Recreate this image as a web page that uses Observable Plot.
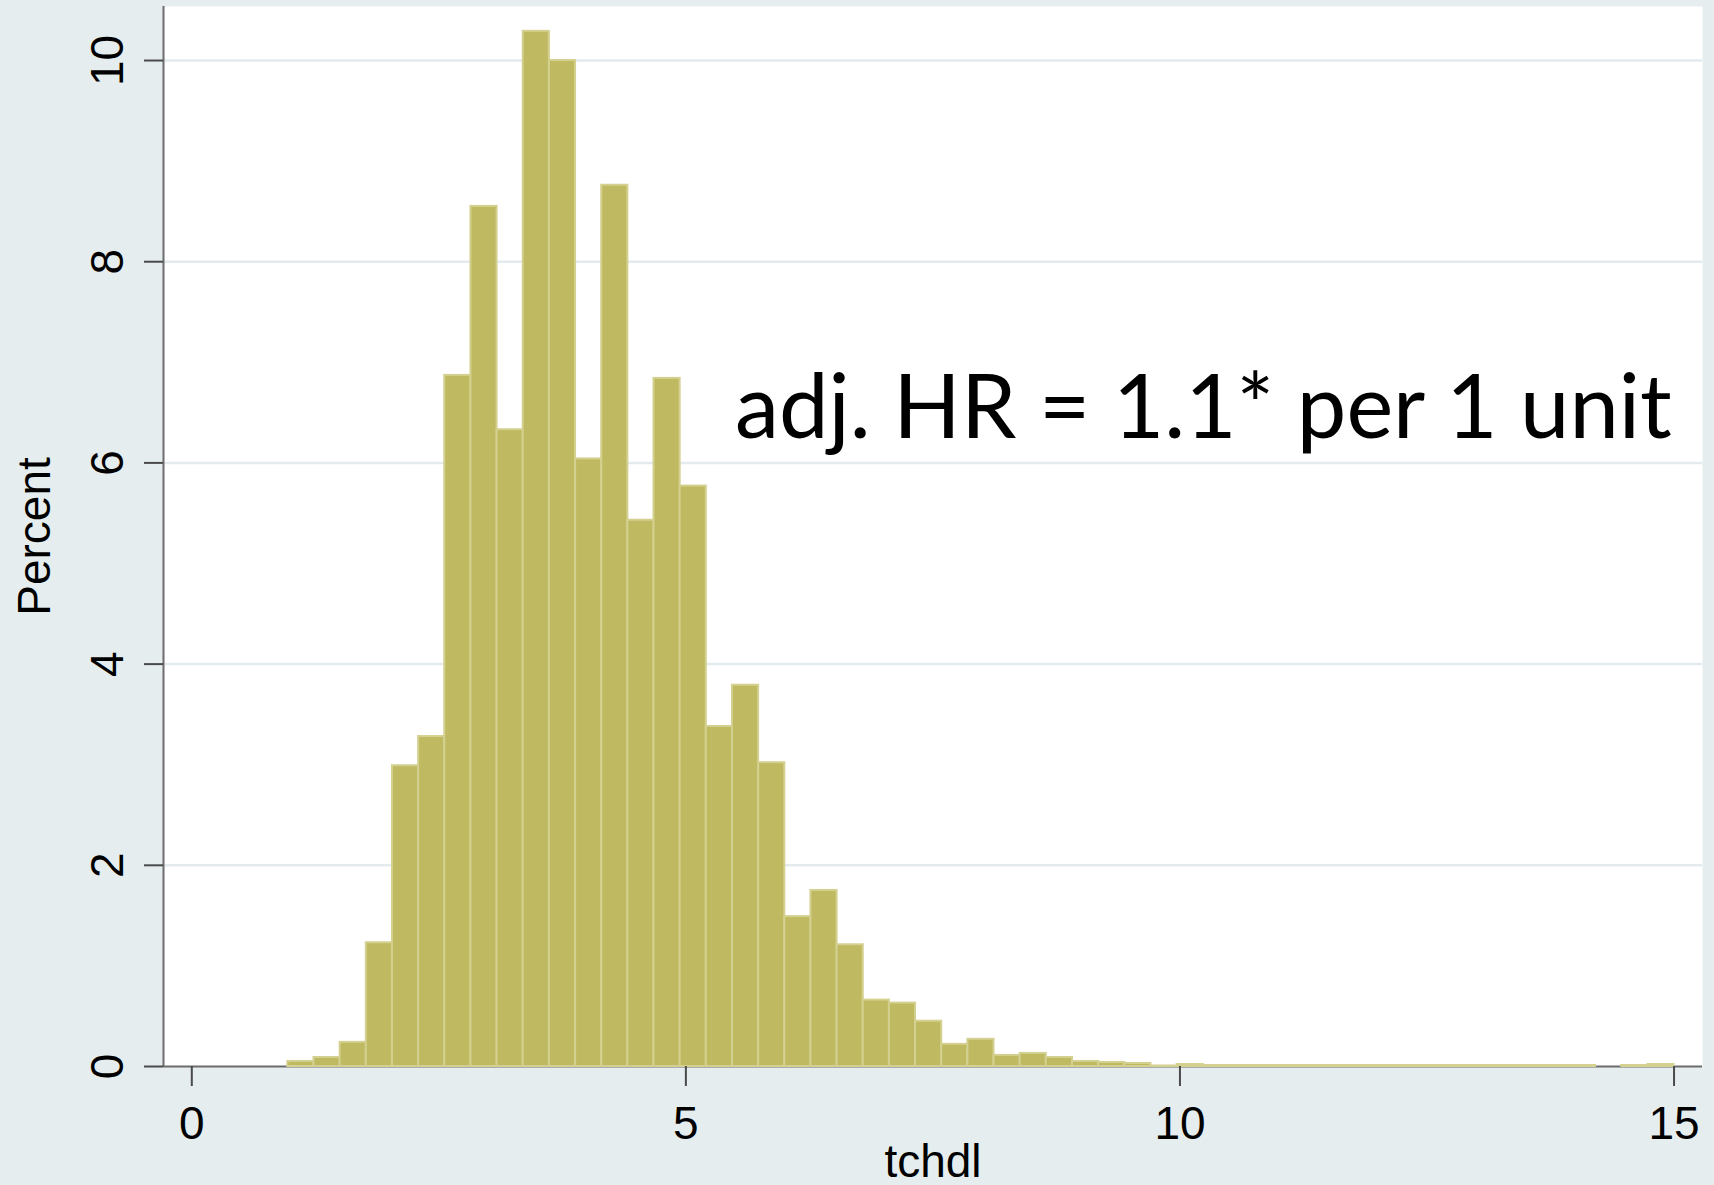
<!DOCTYPE html>
<html><head><meta charset="utf-8">
<script src="https://cdn.jsdelivr.net/npm/d3@7"></script>
<script src="https://cdn.jsdelivr.net/npm/@observablehq/plot@0.6"></script>
<style>
html,body{margin:0;padding:0;background:#e5edef;}
svg{display:block;}
</style></head><body><div id="chart"></div>
<script>
// Histogram of tchdl (percent per bin), 53 equal-width bins
const binStart = 0.972;
const binEnd = 15.0;
const percent = [
  0.05, 0.09, 0.24, 1.23, 2.99, 3.28, 6.87, 8.55, 6.33, 10.29,
  10.00, 6.04, 8.76, 5.43, 6.84, 5.77, 3.38, 3.79, 3.02, 1.49,
  1.75, 1.21, 0.66, 0.63, 0.45, 0.22, 0.27, 0.11, 0.13, 0.09,
  0.05, 0.04, 0.03, 0.005, 0.02, 0.01, 0.01, 0.01, 0.01, 0.01,
  0.01, 0.01, 0.01, 0.01, 0.01, 0.01, 0.01, 0.01, 0.01, 0.01,
  0, 0.01, 0.02
];
const xTicks = [0, 5, 10, 15];
const yTicks = [0, 2, 4, 6, 8, 10];
const xDomain = [-0.2864, 15.288];
const yDomain = [0, 10.537];
const xLabel = "tchdl";
const yLabel = "Percent";
const annotation = [{x: 5.497, y: 6.25, text: "adj. HR = 1.1* per 1 unit"}];

const binWidth = (binEnd - binStart) / percent.length;
const bins = percent.map((p, i) => ({x1: binStart + i * binWidth, x2: binStart + (i + 1) * binWidth, y: p}));

const chart = Plot.plot({
  width: 1714, height: 1185,
  marginLeft: 163, marginRight: 12, marginTop: 6, marginBottom: 119,
  style: {background: "#e5edef", fontFamily: "'Liberation Sans', Arial, sans-serif", color: "black"},
  x: {domain: xDomain},
  y: {domain: yDomain},
  marks: [
    Plot.frame({fill: "white", stroke: null}),
    Plot.gridY(yTicks.filter(d => d > 0), {stroke: "#e3ebee", strokeOpacity: 1, strokeWidth: 2.5}),
    Plot.ruleY([yDomain[0]], {stroke: "#6c6c6c", strokeWidth: 2}),
    Plot.ruleX([xDomain[0]], {stroke: "#6c6c6c", strokeWidth: 2}),
    Plot.rectY(bins, {x1: "x1", x2: "x2", y: "y", fill: "#bfba62", stroke: "#d4d08f", strokeWidth: 2}),
    Plot.axisX(xTicks, {tickSize: 20, tickPadding: 20, fontSize: 46, stroke: "#4a4a4a", strokeWidth: 2, label: null, tickFormat: d => String(d)}),
    Plot.axisY(yTicks, {tickSize: 19, tickPadding: 22, tickRotate: -90, fontSize: 46, stroke: "#4a4a4a", strokeWidth: 2, label: null, tickFormat: d => String(d)}),
    Plot.text([yLabel], {frameAnchor: "left", rotate: -90, textAnchor: "middle", lineAnchor: "bottom", dx: -114, fontSize: 46}),
    Plot.text([xLabel], {frameAnchor: "bottom", textAnchor: "middle", lineAnchor: "bottom", dy: 110, fontSize: 46}),
    Plot.text(annotation, {x: "x", y: "y", text: "text", textAnchor: "start", lineAnchor: "bottom", fontSize: 88.5, fontFamily: "Lato"})
  ]
});
document.getElementById("chart").appendChild(chart);
</script>
</body></html>
